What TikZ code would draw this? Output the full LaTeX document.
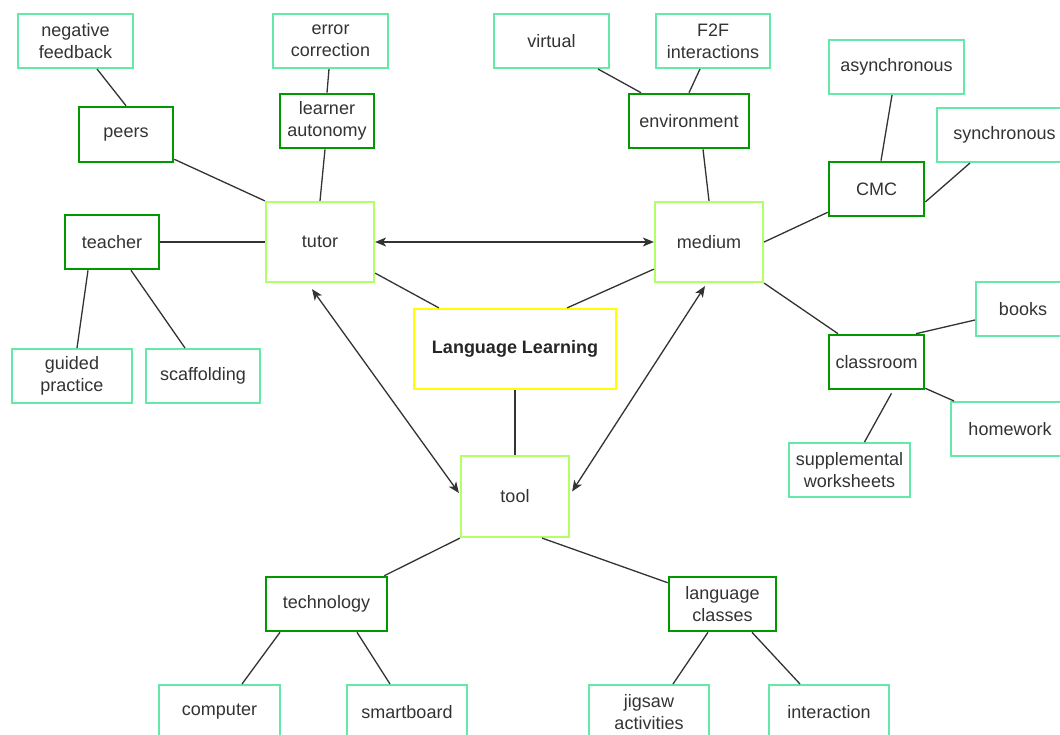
\documentclass[tikz,border=0pt]{standalone}
\usepackage{fontspec}
\setmainfont{Liberation Sans}
\usetikzlibrary{arrows.meta}
\definecolor{leafc}{HTML}{66E8A8}
\definecolor{subc}{HTML}{009A00}
\definecolor{hubc}{HTML}{B3FF66}
\definecolor{rootc}{HTML}{FFFF00}
\definecolor{inkc}{HTML}{333333}
\begin{document}
\begin{tikzpicture}[x=1pt,y=-1pt,
  box/.style={draw, rectangle, inner sep=0pt, align=center, text=inkc,
    font=\fontsize{18}{22}\selectfont, fill=white},
  leaf/.style={box, draw=leafc, line width=2pt},
  sub/.style={box, draw=subc, line width=2.6pt},
  hub/.style={box, draw=hubc, line width=2.2pt},
  root/.style={box, draw=rootc, line width=2.2pt, text=black!85,
    font=\fontsize{18}{22}\selectfont\bfseries},
  link/.style={draw=inkc, line width=1.3pt},
  both/.style={link, {Stealth[length=11pt,width=9pt,inset=3pt]}-{Stealth[length=11pt,width=9pt,inset=3pt]}}
]
\useasboundingbox (0,0) rectangle (1060,734);
\clip (0,0) rectangle (1060,734);
\fill[white] (0,0) rectangle (1060,734);

% central concept and the three hubs
\node[root, minimum width=202, minimum height=80] (ll) at (515,349) {Language Learning};
\node[hub, minimum width=108, minimum height=80] (tutor) at (320,242) {tutor};
\node[hub, minimum width=108, minimum height=80] (medium) at (709,242) {medium};
\node[hub, minimum width=108, minimum height=81] (tool) at (515,496.5) {tool};

% tutor branch
\node[sub, minimum width=94, minimum height=55] (peers) at (126,134.5) {peers};
\node[sub, minimum width=94, minimum height=54] (la) at (327,121) {learner\\autonomy};
\node[sub, minimum width=94, minimum height=54] (teacher) at (112,242) {teacher};
\node[leaf, minimum width=115, minimum height=54] (nf) at (75.5,41) {negative\\feedback};
\node[leaf, minimum width=115, minimum height=54] (ec) at (330.5,41) {error\\correction};
\node[leaf, minimum width=120, minimum height=54] (gp) at (72,376) {guided\\practice};
\node[leaf, minimum width=114, minimum height=54] (scaf) at (203,376) {scaffolding};

% medium branch
\node[sub, minimum width=120, minimum height=54] (env) at (689,121) {environment};
\node[sub, minimum width=95, minimum height=54] (cmc) at (876.5,189) {CMC};
\node[sub, minimum width=95, minimum height=54] (classroom) at (876.5,362) {classroom};
\node[leaf, minimum width=115, minimum height=54] (virtual) at (551.5,41) {virtual};
\node[leaf, minimum width=114, minimum height=54] (f2f) at (713,41) {F2F\\interactions};
\node[leaf, minimum width=135, minimum height=54] (async) at (896.5,67) {asynchronous};
\node[leaf, minimum width=135, minimum height=54] (sync) at (1004.5,135) {synchronous};
\node[leaf, minimum width=94, minimum height=54] (books) at (1023,309) {books};
\node[leaf, minimum width=118, minimum height=54] (homework) at (1010,429) {homework};
\node[leaf, minimum width=121, minimum height=54] (supp) at (849.5,470) {supplemental\\worksheets};

% tool branch
\node[sub, minimum width=121, minimum height=54] (tech) at (326.5,604) {technology};
\node[sub, minimum width=107, minimum height=54] (lc) at (722.5,604) {language\\classes};
\node[leaf, minimum width=121, minimum height=54] (comp) at (219.5,712) {computer};
\node[leaf, minimum width=120, minimum height=54] (smart) at (407,712) {smartboard};
\node[leaf, minimum width=120, minimum height=54] (jig) at (649,712) {jigsaw\\activities};
\node[leaf, minimum width=120, minimum height=54] (inter) at (829,712) {interaction};

% links around the tutor
\draw[link] ([xshift=21.5pt]nf.south) -- (peers.north);
\draw[link] ([xshift=-1.5pt]ec.south) -- (la.north);
\draw[link] ([yshift=4pt]peers.south east) -- (tutor.north west);
\draw[link] ([xshift=-2pt]la.south) -- (tutor.north);
\draw[link] (teacher.east) -- (tutor.west);
\draw[link] ([xshift=-24pt]teacher.south) -- ([xshift=5pt]gp.north);
\draw[link] ([xshift=19pt]teacher.south) -- ([xshift=-18pt]scaf.north);

% links around the medium
\draw[link] ([xshift=46.5pt]virtual.south) -- ([xshift=-48pt]env.north);
\draw[link] ([xshift=-13pt]f2f.south) -- (env.north);
\draw[link] ([xshift=14pt]env.south) -- (medium.north);
\draw[link] (medium.east) -- ([yshift=5pt]cmc.south west);
\draw[link] ([xshift=-4.5pt]async.south) -- ([xshift=4.5pt]cmc.north);
\draw[link] ([xshift=-34.5pt]sync.south) -- ([yshift=-13pt]cmc.east);
\draw[link] (medium.south east) -- ([xshift=-38.5pt]classroom.north);
\draw[link] ([xshift=39.5pt]classroom.north) -- ([yshift=-11pt]books.west);
\draw[link] ([yshift=2pt]classroom.south east) -- ([xshift=4pt]homework.north west);
\draw[link] ([xshift=15pt,yshift=-3pt]classroom.south) -- ([xshift=15pt]supp.north);

% links around the tool
\draw[link] (tool.south west) -- ([xshift=-4pt]tech.north east);
\draw[link] ([xshift=-28pt]tool.south east) -- ([yshift=-7pt]lc.north west);
\draw[link] ([xshift=-46.5pt]tech.south) -- ([xshift=22.5pt]comp.north);
\draw[link] ([xshift=30.5pt]tech.south) -- ([xshift=-17pt]smart.north);
\draw[link] ([xshift=-14.5pt]lc.south) -- ([xshift=24pt]jig.north);
\draw[link] ([xshift=29.5pt]lc.south) -- ([xshift=-29pt]inter.north);

% links to the central concept
\draw[link] ([yshift=10pt]tutor.south east) -- ([xshift=26pt]ll.north west);
\draw[link] ([yshift=14pt]medium.south west) -- ([xshift=-50pt]ll.north east);
\draw[link] (ll.south) -- (tool.north);

% two-way relations between the hubs
\draw[both] (tutor.east) -- (medium.west);
\draw[both] ([xshift=-8pt,yshift=-6pt]tutor.south) -- ([xshift=-1pt,yshift=3.5pt]tool.west);
\draw[both] ([xshift=-4pt,yshift=-3pt]medium.south) -- ([xshift=2pt,yshift=5pt]tool.east);
\end{tikzpicture}
\end{document}
